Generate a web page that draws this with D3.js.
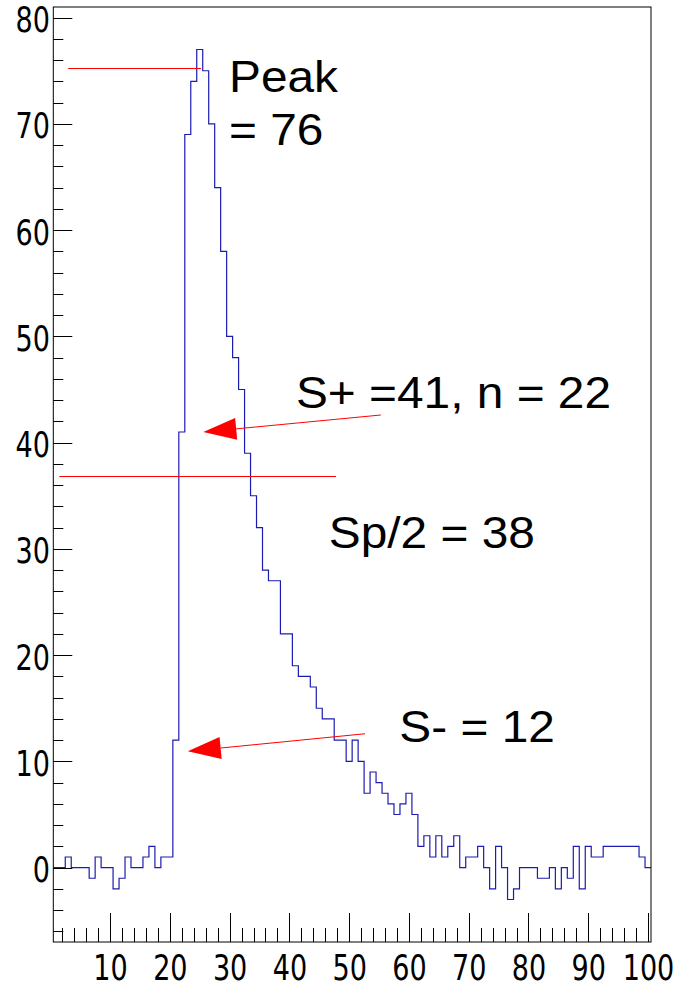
<!DOCTYPE html>
<html lang="en">
<head>
  <meta charset="UTF-8">
  <title>Histogram</title>
  <style>
    body { margin: 0; background: #fff; overflow: hidden; }
    svg { display: block; }
    .frame { fill: none; stroke: #000; stroke-width: 1px; }
    .tick { stroke: #000; stroke-width: 1px; }
    .tick-label { font-family: "Liberation Sans Narrow", "DejaVu Sans Condensed", sans-serif; font-size: 35px; fill: #000; }
    .hist { fill: none; stroke: #1c1cb0; stroke-width: 1.2px; }
    .note-line { stroke: #ff0000; stroke-width: 1px; }
    .note-head { fill: #ff0000; }
    .note-text { font-family: "Liberation Sans", Arial, sans-serif; font-size: 45px; fill: #000; }
  </style>
</head>
<body>
  <script src="https://cdn.jsdelivr.net/npm/d3@7"></script>
  <script>
    // bin contents, bins 1..100 (width 1, centred on the integers)
    const counts = [
      0, 0, 1, 0, 0, 0, -1, 1, 0, 0,
      -2, -1, 1, 0, 0, 1, 2, 0, 1, 1,
      12, 41, 69, 74, 77, 75, 70, 64, 58, 50,
      48, 45, 39, 35, 32, 28, 27, 27, 22, 22,
      19, 18, 18, 17, 15, 14, 14, 12, 12, 10,
      12, 10, 7, 9, 8, 7, 6, 5, 6, 7,
      5, 2, 3, 1, 3, 1, 2, 3, 0, 1,
      1, 2, 0, -2, 2, 0, -3, -2, 0, 0,
      0, -1, -1, 0, -2, 0, -1, 2, -2, 2,
      1, 1, 2, 2, 2, 2, 2, 2, 1, 0
    ];

    const xMajor = [10, 20, 30, 40, 50, 60, 70, 80, 90, 100];
    const xMinor = d3.range(2, 101, 2);
    const yMajor = [0, 10, 20, 30, 40, 50, 60, 70, 80];
    const yMinor = d3.range(-6, 81, 2);

    // annotations (data coordinates)
    const hLines = [
      { x1: 3.0, x2: 25.2, y: 75.3 },   // peak level
      { x1: 1.5, x2: 47.8, y: 36.9 }    // half peak
    ];
    const arrows = [
      { from: [55.3, 42.6], to: [25.6, 41.0] },
      { from: [52.65, 12.6], to: [23.0, 10.95] }
    ];
    const notes = [
      { text: "Peak", x: 29.9, y: 73.0 },
      { text: "= 76", x: 29.9, y: 68.0 },
      { text: "S+ =41, n = 22", x: 41.1, y: 43.3 },
      { text: "Sp/2 = 38", x: 46.6, y: 30.1 },
      { text: "S- = 12", x: 58.4, y: 11.85 }
    ];

    const width = 686, height = 984;
    const padL = 53.3, padR = 651, padT = 7, padB = 942;

    const x = d3.scaleLinear().domain([0.5, 100.5]).range([padL, padR]);
    const y = d3.scaleLinear().domain([-7, 81]).range([padB, padT]);
    const crisp = v => Math.round(v) + 0.5;

    const svg = d3.select("body").append("svg")
      .attr("width", width).attr("height", height);

    // histogram outline
    const pts = [];
    counts.forEach((v, i) => {
      pts.push([i + 0.5, v]);
      pts.push([i + 1.5, v]);
    });
    svg.append("path").attr("class", "hist")
      .attr("d", d3.line().x(d => x(d[0])).y(d => y(d[1]))(pts));

    // frame
    svg.append("rect").attr("class", "frame")
      .attr("x", padL).attr("y", padT)
      .attr("width", padR - padL).attr("height", padB - padT);

    // y ticks
    svg.append("g").selectAll("line").data(yMinor).enter().append("line")
      .attr("class", "tick")
      .attr("x1", padL).attr("x2", d => padL + (d % 10 === 0 ? 19 : 10))
      .attr("y1", d => crisp(y(d))).attr("y2", d => crisp(y(d)));

    svg.append("g").selectAll("text").data(yMajor).enter().append("text")
      .attr("class", "tick-label")
      .attr("text-anchor", "end")
      .attr("transform", d => `translate(50,${y(d) + 14.5}) scale(0.86,1)`)
      .text(d => d);

    // x ticks
    svg.append("g").selectAll("line").data(xMinor).enter().append("line")
      .attr("class", "tick")
      .attr("x1", d => crisp(x(d))).attr("x2", d => crisp(x(d)))
      .attr("y1", padB).attr("y2", d => padB - (d % 10 === 0 ? 29 : 14));

    svg.append("g").selectAll("text").data(xMajor).enter().append("text")
      .attr("class", "tick-label")
      .attr("text-anchor", "middle")
      .attr("transform", d => `translate(${x(d) + 0.5},979.5) scale(0.86,1)`)
      .text(d => d);

    // annotations
    svg.append("g").selectAll("line").data(hLines).enter().append("line")
      .attr("class", "note-line")
      .attr("x1", d => x(d.x1)).attr("x2", d => x(d.x2))
      .attr("y1", d => crisp(y(d.y))).attr("y2", d => crisp(y(d.y)));

    const arrowG = svg.append("g");
    arrows.forEach(a => {
      const x0 = x(a.from[0]), y0 = y(a.from[1]);
      const x1 = x(a.to[0]), y1 = y(a.to[1]);
      const len = Math.hypot(x1 - x0, y1 - y0);
      const ux = (x1 - x0) / len, uy = (y1 - y0) / len;
      const hl = 33, hw = 11;
      const bx = x1 - ux * hl, by = y1 - uy * hl;
      arrowG.append("line").attr("class", "note-line")
        .attr("x1", x0).attr("y1", y0).attr("x2", bx).attr("y2", by);
      arrowG.append("path").attr("class", "note-head")
        .attr("d", `M${x1},${y1}L${bx - uy * hw},${by + ux * hw}L${bx + uy * hw},${by - ux * hw}Z`);
    });

    svg.append("g").selectAll("text").data(notes).enter().append("text")
      .attr("class", "note-text")
      .attr("transform", d => `translate(${x(d.x)},${y(d.y)}) scale(1.063,1)`)
      .text(d => d.text);
  </script>
</body>
</html>
